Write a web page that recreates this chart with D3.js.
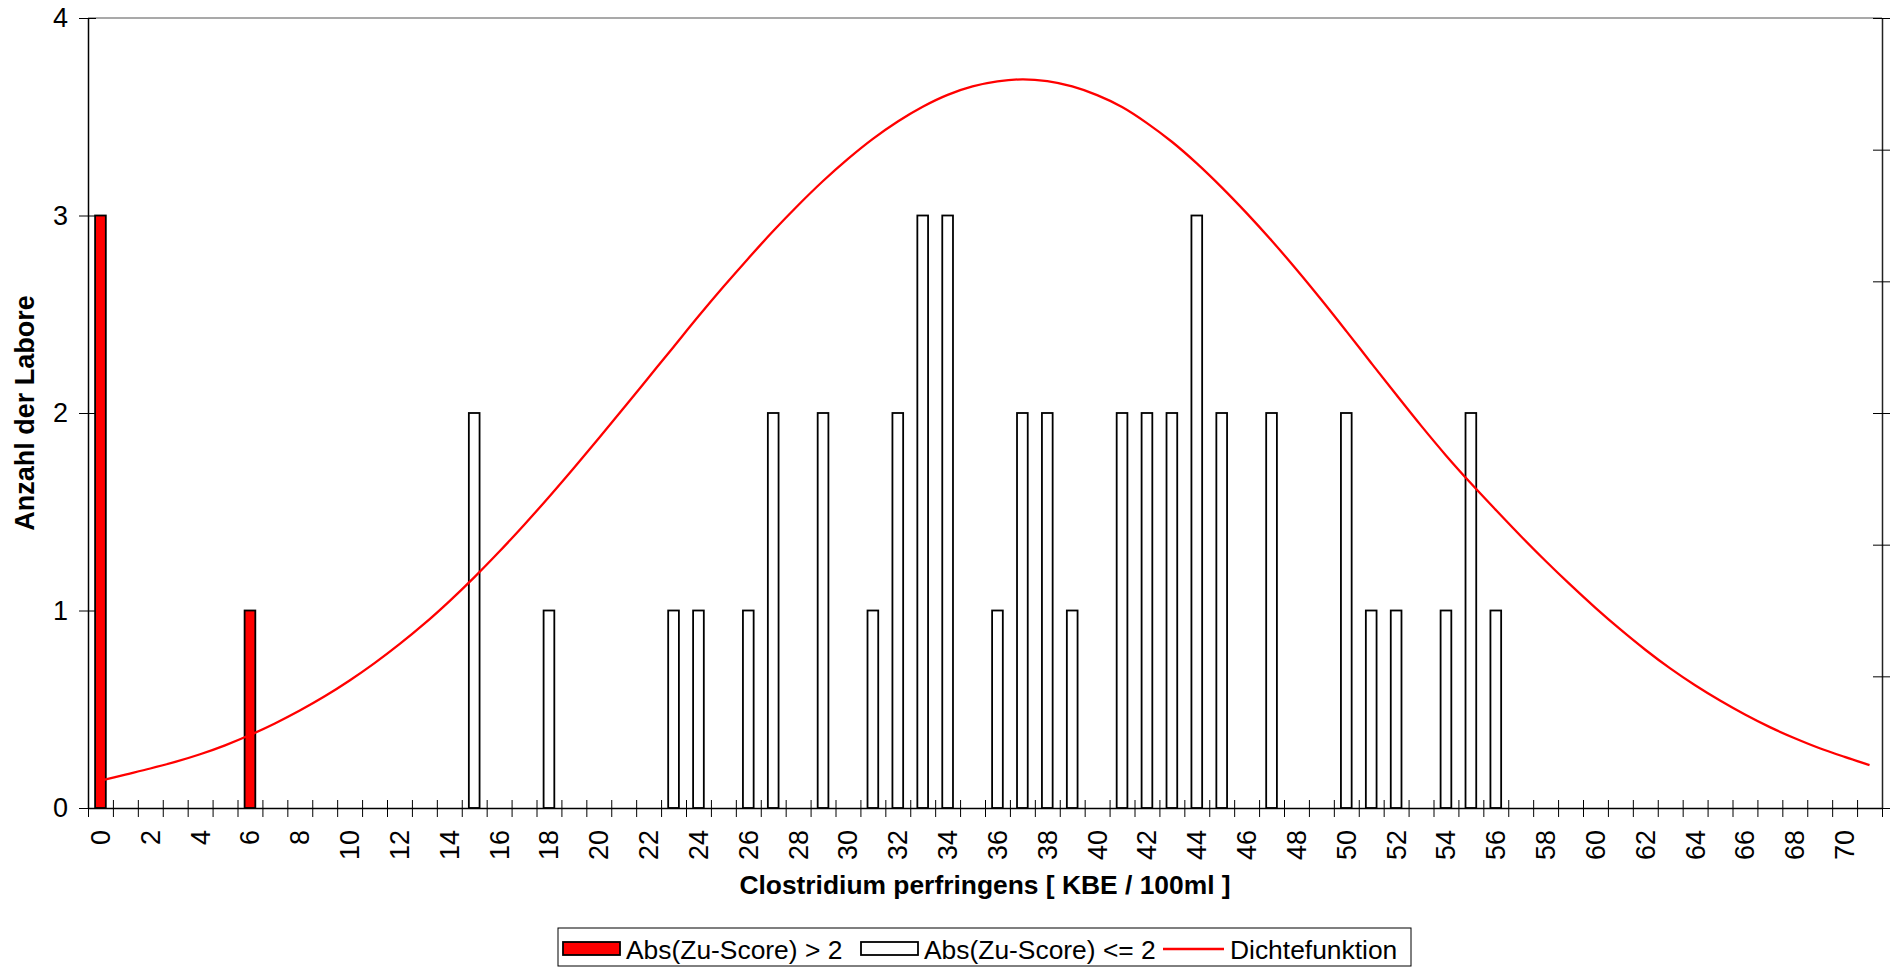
<!DOCTYPE html>
<html>
<head>
<meta charset="utf-8">
<script src="https://cdn.jsdelivr.net/npm/d3@7"></script>
<style>
  body { margin: 0; background: #fff; }
  svg { display: block; font-family: "Liberation Sans", Arial, sans-serif; }
</style>
</head>
<body>
<div id="vis"></div>
<script>
// categories on the x axis (KBE / 100ml)
const categories = [0, 1, 2, 3, 4, 5, 6, 7, 8, 9, 10, 11, 12, 13, 14, 15, 16, 17, 18, 19,
  20, 21, 22, 23, 24, 25, 26, 27, 28, 29, 30, 31, 32, 33, 34, 35, 36, 37, 38, 39,
  40, 41, 42, 43, 44, 45, 46, 47, 48, 49, 50, 51, 52, 53, 54, 55, 56, 57, 58, 59,
  60, 61, 62, 63, 64, 65, 66, 67, 68, 69, 70, 71];
const xTickLabels = [0, 2, 4, 6, 8, 10, 12, 14, 16, 18, 20, 22, 24, 26, 28, 30, 32, 34,
  36, 38, 40, 42, 44, 46, 48, 50, 52, 54, 56, 58, 60, 62, 64, 66, 68, 70];
const yTicks = [0, 1, 2, 3, 4];

// Abs(Zu-Score) > 2
const redCats = [0, 6];
const redCounts = [3, 1];

// Abs(Zu-Score) <= 2
const whiteCats = [15, 18, 23, 24, 26, 27, 29, 31, 32, 33, 34, 36, 37, 38, 39, 41, 42, 43,
  44, 45, 47, 50, 51, 52, 54, 55, 56];
const whiteCounts = [2, 1, 1, 1, 1, 2, 2, 1, 2, 3, 3, 1, 2, 2, 1, 2, 2, 2,
  3, 2, 2, 2, 1, 1, 1, 2, 1];

// Dichtefunktion, one value per category (secondary axis)
const density = [0.00104, 0.00127, 0.00150, 0.00175, 0.00204, 0.00238, 0.00277, 0.00321,
  0.00370, 0.00424, 0.00484, 0.00550, 0.00622, 0.00700, 0.00785, 0.00876, 0.00973, 0.01075,
  0.01181, 0.01291, 0.01404, 0.01519, 0.01635, 0.01751, 0.01867, 0.01979, 0.02087, 0.02191,
  0.02289, 0.02381, 0.02465, 0.02541, 0.02607, 0.02663, 0.02708, 0.02740, 0.02759, 0.02767,
  0.02760, 0.02740, 0.02707, 0.02662, 0.02601, 0.02530, 0.02448, 0.02357, 0.02259, 0.02155,
  0.02045, 0.01930, 0.01811, 0.01690, 0.01570, 0.01452, 0.01339, 0.01233, 0.01132, 0.01033,
  0.00938, 0.00847, 0.00760, 0.00678, 0.00601, 0.00530, 0.00466, 0.00408, 0.00355, 0.00307,
  0.00265, 0.00227, 0.00194, 0.00163];

const legendItems = ['Abs(Zu-Score) > 2', 'Abs(Zu-Score) <= 2', 'Dichtefunktion'];

const W = 1894, H = 969;
const margin = { top: 18, right: 12, bottom: 161, left: 88 };
const width = W - margin.left - margin.right;
const height = H - margin.top - margin.bottom;
const fontSize = 27;
const labelSize = 26.4;   // titles and legend run a touch narrower

const $svg = d3.select('#vis').append('svg')
  .attr('width', W)
  .attr('height', H);

const $plot = $svg.append('g')
  .attr('transform', `translate(${margin.left}, ${margin.top})`);

// scales
const x = d3.scaleBand().domain(categories).range([0, width]).padding(0);
const xEdge = d3.scaleLinear().domain([0, categories.length]).range([0, width]);
const y = d3.scaleLinear().domain([0, 4]).range([height, 0]);
const y2 = d3.scaleLinear().domain([0, 0.03]).range([height, 0]);

const barW = x.bandwidth() * 0.43;

// plot frame top (grey)
$plot.append('line')
  .attr('x1', 0).attr('x2', width)
  .attr('y1', 0).attr('y2', 0)
  .attr('stroke', '#8c8c8c')
  .attr('stroke-width', 1.5);

// bars
function drawBars(cats, counts, fill) {
  $plot.append('g')
    .selectAll('rect')
    .data(cats.map((c, i) => ({ c, v: counts[i] })))
    .enter()
    .append('rect')
    .attr('x', d => x(d.c) + (x.bandwidth() - barW) / 2)
    .attr('y', d => y(d.v))
    .attr('width', barW)
    .attr('height', d => y(0) - y(d.v))
    .attr('fill', fill)
    .attr('stroke', '#000')
    .attr('stroke-width', 1.8);
}
drawBars(whiteCats, whiteCounts, '#fff');
drawBars(redCats, redCounts, '#ff0000');

// x axis: tick marks on band edges
const $xTicks = $plot.append('g')
  .attr('transform', `translate(0, ${height})`)
  .call(d3.axisBottom(xEdge).ticks(categories.length).tickSize(9).tickSizeOuter(0).tickFormat(''));
$xTicks.selectAll('.tick line').attr('y1', -8);
$xTicks.select('.domain').attr('stroke-width', 1.5);

// x axis labels, rotated
const $xLabels = $plot.append('g')
  .attr('transform', `translate(0, ${height})`)
  .call(d3.axisBottom(x).tickValues(xTickLabels).tickSize(0));
$xLabels.select('.domain').remove();
$xLabels.selectAll('.tick text')
  .attr('font-size', fontSize)
  .attr('font-family', null)
  .attr('fill', '#000')
  .attr('transform', 'rotate(-90)')
  .attr('x', -22)
  .attr('y', 0)
  .attr('dy', '0.35em')
  .attr('text-anchor', 'end');

// y axis left
const $yAxis = $plot.append('g')
  .call(d3.axisLeft(y).tickValues(yTicks).tickFormat(d3.format('d')).tickSize(9).tickSizeOuter(0));
$yAxis.selectAll('.tick line').attr('x1', 8);
$yAxis.select('.domain').attr('stroke-width', 1.5);
$yAxis.selectAll('.tick text')
  .attr('font-size', fontSize)
  .attr('font-family', null)
  .attr('fill', '#000')
  .attr('x', -20);

// secondary axis right, no labels
const $y2Axis = $plot.append('g')
  .attr('transform', `translate(${width}, 0)`)
  .call(d3.axisRight(y2).ticks(6).tickSize(8).tickSizeOuter(0).tickFormat(''));
$y2Axis.selectAll('.tick line').attr('x1', -9);
$y2Axis.select('.domain').attr('stroke', '#222').attr('stroke-width', 1.5);

// density curve
const line = d3.line()
  .x((d, i) => x(categories[i]) + x.bandwidth() / 2)
  .y(d => y2(d))
  .curve(d3.curveCatmullRom);

$plot.append('path')
  .datum(density)
  .attr('d', line)
  .attr('fill', 'none')
  .attr('stroke', '#ff0000')
  .attr('stroke-width', 2.3);

// axis titles
$svg.append('text')
  .attr('transform', `translate(34, ${margin.top + height / 2}) rotate(-90)`)
  .attr('text-anchor', 'middle')
  .attr('font-size', fontSize)
  .attr('font-weight', 700)
  .text('Anzahl der Labore');

$svg.append('text')
  .attr('x', margin.left + width / 2)
  .attr('y', 894)
  .attr('text-anchor', 'middle')
  .attr('font-size', labelSize)
  .attr('font-weight', 700)
  .text('Clostridium perfringens [ KBE / 100ml ]');

// legend
const $legend = $svg.append('g').attr('transform', 'translate(558, 928)');
$legend.append('rect')
  .attr('width', 853).attr('height', 38)
  .attr('fill', '#fff')
  .attr('stroke', '#000')
  .attr('stroke-width', 1);

const legendX = [5, 303, 605];
const $items = $legend.selectAll('.item')
  .data(legendItems)
  .enter()
  .append('g')
  .attr('class', 'item')
  .attr('transform', (d, i) => `translate(${legendX[i]}, 0)`);

$items.filter((d, i) => i < 2).append('rect')
  .attr('x', 0).attr('y', 14)
  .attr('width', 57).attr('height', 13)
  .attr('fill', (d, i) => i === 0 ? '#ff0000' : '#fff')
  .attr('stroke', '#000')
  .attr('stroke-width', 1.8);

$items.filter((d, i) => i === 2).append('line')
  .attr('x1', 0).attr('x2', 61)
  .attr('y1', 21).attr('y2', 21)
  .attr('stroke', '#ff0000')
  .attr('stroke-width', 2.3);

$items.append('text')
  .attr('x', (d, i) => i === 2 ? 67 : 63)
  .attr('y', 30.5)
  .attr('font-size', labelSize)
  .text(d => d);
</script>
</body>
</html>
